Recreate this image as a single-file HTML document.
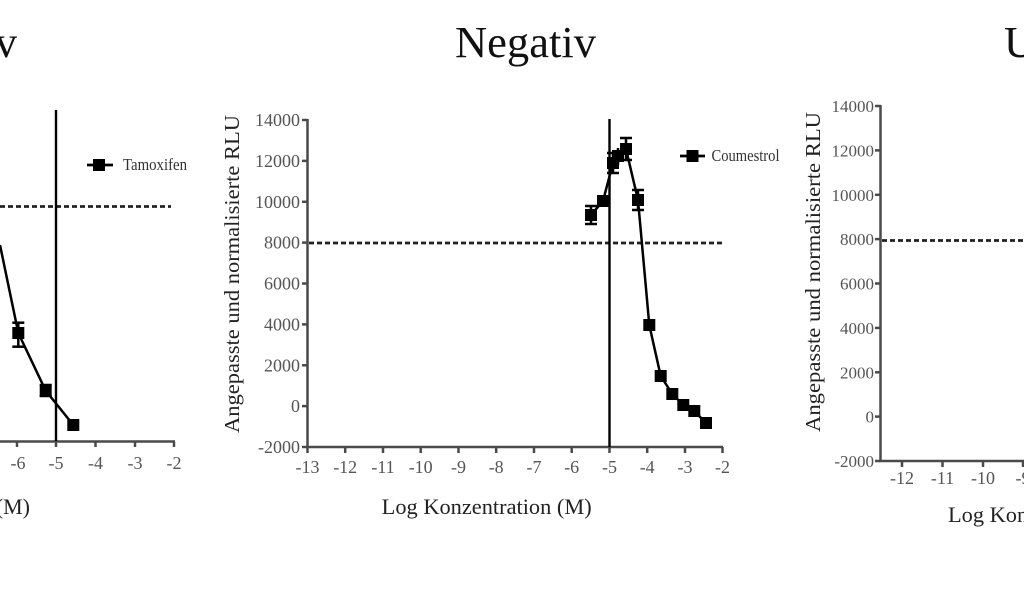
<!DOCTYPE html>
<html><head><meta charset="utf-8"><style>
html,body{margin:0;padding:0;background:#fff;}
svg{display:block;}
text{font-family:"Liberation Serif",serif;}
</style></head><body>
<svg width="1024" height="600" viewBox="0 0 1024 600" xmlns="http://www.w3.org/2000/svg">
<rect width="1024" height="600" fill="#fff"/>

<!-- Titles -->
<text x="17" y="57" font-size="44" text-anchor="end" fill="#111">Positiv</text>
<text x="455" y="57" font-size="44" fill="#111" textLength="141" lengthAdjust="spacingAndGlyphs">Negativ</text>
<text x="1004" y="57" font-size="44" fill="#111">Unbekannt</text>

<!-- ================= LEFT CHART ================= -->
<g stroke="#4a4a4a" stroke-width="2.5" fill="none">
  <line x1="0" y1="441.5" x2="175" y2="441.5"/>
  <line x1="17" y1="441.5" x2="17" y2="447"/>
  <line x1="56" y1="441.5" x2="56" y2="447"/>
  <line x1="95.5" y1="441.5" x2="95.5" y2="447"/>
  <line x1="135" y1="441.5" x2="135" y2="447"/>
  <line x1="174" y1="441.5" x2="174" y2="447"/>
</g>
<g font-size="18" fill="#555" text-anchor="middle">
  <text x="18" y="469">-6</text>
  <text x="56" y="469">-5</text>
  <text x="95.5" y="469">-4</text>
  <text x="135" y="469">-3</text>
  <text x="174" y="469">-2</text>
</g>
<text x="30" y="514" font-size="22" fill="#222" text-anchor="end">Log Konzentration (M)</text>
<line x1="0" y1="206.5" x2="171" y2="206.5" stroke="#222" stroke-width="2.7" stroke-dasharray="5 3"/>
<line x1="56" y1="110" x2="56" y2="441" stroke="#000" stroke-width="2.4"/>
<polyline points="0,245 18.3,333 45.7,390.7 73.3,425" fill="none" stroke="#000" stroke-width="2.5"/>
<g stroke="#000" stroke-width="2.5">
  <line x1="18.3" y1="322.7" x2="18.3" y2="346.7"/>
  <line x1="12.3" y1="322.7" x2="24.3" y2="322.7"/>
  <line x1="12.3" y1="346.7" x2="24.3" y2="346.7"/>
  <line x1="45.7" y1="385" x2="45.7" y2="396"/>
  <line x1="39.7" y1="385" x2="51.7" y2="385"/>
  <line x1="39.7" y1="396" x2="51.7" y2="396"/>
</g>
<g fill="#000">
  <rect x="12.3" y="327" width="12" height="12"/>
  <rect x="39.7" y="384.7" width="12" height="12"/>
  <rect x="67.3" y="419" width="12" height="12"/>
</g>
<!-- legend -->
<line x1="87" y1="165" x2="113" y2="165" stroke="#000" stroke-width="2.7"/>
<rect x="93" y="159" width="12" height="12" fill="#000"/>
<text x="123" y="170" font-size="17" fill="#333" textLength="64" lengthAdjust="spacingAndGlyphs">Tamoxifen</text>

<!-- ================= MIDDLE CHART ================= -->
<text transform="translate(239,274) rotate(-90)" font-size="21" fill="#222" text-anchor="middle" textLength="318" lengthAdjust="spacingAndGlyphs">Angepasste und normalisierte RLU</text>
<g stroke="#4a4a4a" stroke-width="2.5" fill="none">
  <line x1="307.5" y1="119" x2="307.5" y2="447"/>
  <line x1="306" y1="447" x2="723" y2="447"/>
  <line x1="302" y1="120" x2="307.5" y2="120"/>
  <line x1="302" y1="160.9" x2="307.5" y2="160.9"/>
  <line x1="302" y1="201.8" x2="307.5" y2="201.8"/>
  <line x1="302" y1="242.6" x2="307.5" y2="242.6"/>
  <line x1="302" y1="283.5" x2="307.5" y2="283.5"/>
  <line x1="302" y1="324.4" x2="307.5" y2="324.4"/>
  <line x1="302" y1="365.3" x2="307.5" y2="365.3"/>
  <line x1="302" y1="406.1" x2="307.5" y2="406.1"/>
  <line x1="302" y1="447" x2="307.5" y2="447"/>
  <line x1="307.5" y1="447" x2="307.5" y2="453"/>
  <line x1="345.2" y1="447" x2="345.2" y2="453"/>
  <line x1="383" y1="447" x2="383" y2="453"/>
  <line x1="420.7" y1="447" x2="420.7" y2="453"/>
  <line x1="458.5" y1="447" x2="458.5" y2="453"/>
  <line x1="496.2" y1="447" x2="496.2" y2="453"/>
  <line x1="534" y1="447" x2="534" y2="453"/>
  <line x1="571.7" y1="447" x2="571.7" y2="453"/>
  <line x1="609.5" y1="447" x2="609.5" y2="453"/>
  <line x1="647.2" y1="447" x2="647.2" y2="453"/>
  <line x1="685" y1="447" x2="685" y2="453"/>
  <line x1="722.5" y1="447" x2="722.5" y2="453"/>
</g>
<g font-size="18" fill="#555" text-anchor="end">
  <text x="300" y="126">14000</text>
  <text x="300" y="167">12000</text>
  <text x="300" y="208">10000</text>
  <text x="300" y="248.5">8000</text>
  <text x="300" y="289.5">6000</text>
  <text x="300" y="330.5">4000</text>
  <text x="300" y="371.5">2000</text>
  <text x="300" y="412">0</text>
  <text x="300" y="453">-2000</text>
</g>
<g font-size="18" fill="#555" text-anchor="middle">
  <text x="307.5" y="473">-13</text>
  <text x="345.2" y="473">-12</text>
  <text x="383" y="473">-11</text>
  <text x="420.7" y="473">-10</text>
  <text x="458.5" y="473">-9</text>
  <text x="496.2" y="473">-8</text>
  <text x="534" y="473">-7</text>
  <text x="571.7" y="473">-6</text>
  <text x="609.5" y="473">-5</text>
  <text x="647.2" y="473">-4</text>
  <text x="685" y="473">-3</text>
  <text x="722.5" y="473">-2</text>
</g>
<text x="381.7" y="514" font-size="22" fill="#222" textLength="210" lengthAdjust="spacingAndGlyphs">Log Konzentration (M)</text>
<line x1="309" y1="243" x2="724" y2="243" stroke="#222" stroke-width="2.7" stroke-dasharray="5 3"/>
<line x1="609.5" y1="119" x2="609.5" y2="447" stroke="#000" stroke-width="2.4"/>
<polyline points="591,215 603,201 613,163 618,156 626,149 638,200 649.3,325 660.7,376 672.3,394 683.3,405 694.3,411 706,423" fill="none" stroke="#000" stroke-width="2.5"/>
<g stroke="#000" stroke-width="2.5">
  <line x1="591" y1="206" x2="591" y2="224"/>
  <line x1="585" y1="206" x2="597" y2="206"/>
  <line x1="585" y1="224" x2="597" y2="224"/>
  <line x1="613" y1="153" x2="613" y2="173"/>
  <line x1="607" y1="153" x2="619" y2="153"/>
  <line x1="607" y1="173" x2="619" y2="173"/>
  <line x1="618" y1="148" x2="618" y2="165"/>
  <line x1="626" y1="138" x2="626" y2="160"/>
  <line x1="620" y1="138" x2="632" y2="138"/>
  <line x1="620" y1="160" x2="632" y2="160"/>
  <line x1="638" y1="190" x2="638" y2="210"/>
  <line x1="632" y1="190" x2="644" y2="190"/>
  <line x1="632" y1="210" x2="644" y2="210"/>
</g>
<g fill="#000">
  <rect x="585" y="209" width="12" height="12"/>
  <rect x="597" y="195" width="12" height="12"/>
  <rect x="607" y="157" width="12" height="12"/>
  <rect x="612" y="150" width="12" height="12"/>
  <rect x="620" y="143" width="12" height="12"/>
  <rect x="632" y="194" width="12" height="12"/>
  <rect x="643.3" y="319" width="12" height="12"/>
  <rect x="654.7" y="370" width="12" height="12"/>
  <rect x="666.3" y="388" width="12" height="12"/>
  <rect x="677.3" y="399" width="12" height="12"/>
  <rect x="688.3" y="405" width="12" height="12"/>
  <rect x="700" y="417" width="12" height="12"/>
</g>
<!-- legend -->
<line x1="680" y1="156" x2="705" y2="156" stroke="#000" stroke-width="2.7"/>
<rect x="686.5" y="150" width="12" height="12" fill="#000"/>
<text x="711.5" y="161" font-size="17" fill="#333" textLength="68" lengthAdjust="spacingAndGlyphs">Coumestrol</text>

<!-- ================= RIGHT CHART ================= -->
<text transform="translate(820,272) rotate(-90)" font-size="21" fill="#222" text-anchor="middle" textLength="320" lengthAdjust="spacingAndGlyphs">Angepasste und normalisierte RLU</text>
<g stroke="#4a4a4a" stroke-width="2.5" fill="none">
  <line x1="880.5" y1="105" x2="880.5" y2="461"/>
  <line x1="879" y1="461" x2="1024" y2="461"/>
  <line x1="875" y1="106" x2="880.5" y2="106"/>
  <line x1="875" y1="150.4" x2="880.5" y2="150.4"/>
  <line x1="875" y1="194.8" x2="880.5" y2="194.8"/>
  <line x1="875" y1="239.1" x2="880.5" y2="239.1"/>
  <line x1="875" y1="283.5" x2="880.5" y2="283.5"/>
  <line x1="875" y1="327.9" x2="880.5" y2="327.9"/>
  <line x1="875" y1="372.3" x2="880.5" y2="372.3"/>
  <line x1="875" y1="416.6" x2="880.5" y2="416.6"/>
  <line x1="875" y1="461" x2="880.5" y2="461"/>
  <line x1="902" y1="461" x2="902" y2="467"/>
  <line x1="942.5" y1="461" x2="942.5" y2="467"/>
  <line x1="983" y1="461" x2="983" y2="467"/>
  <line x1="1023" y1="461" x2="1023" y2="467"/>
</g>
<g font-size="17" fill="#555" text-anchor="end">
  <text x="874" y="112">14000</text>
  <text x="874" y="156.4">12000</text>
  <text x="874" y="200.8">10000</text>
  <text x="874" y="245.1">8000</text>
  <text x="874" y="289.5">6000</text>
  <text x="874" y="333.9">4000</text>
  <text x="874" y="378.3">2000</text>
  <text x="874" y="422.6">0</text>
  <text x="874" y="467">-2000</text>
</g>
<g font-size="18" fill="#555" text-anchor="middle">
  <text x="902" y="484">-12</text>
  <text x="942.5" y="484">-11</text>
  <text x="983" y="484">-10</text>
  <text x="1023" y="484">-9</text>
</g>
<text x="948" y="522" font-size="22" fill="#222" textLength="210" lengthAdjust="spacingAndGlyphs">Log Konzentration (M)</text>
<line x1="882" y1="240.5" x2="1024" y2="240.5" stroke="#222" stroke-width="2.7" stroke-dasharray="5 3"/>
</svg>
</body></html>
